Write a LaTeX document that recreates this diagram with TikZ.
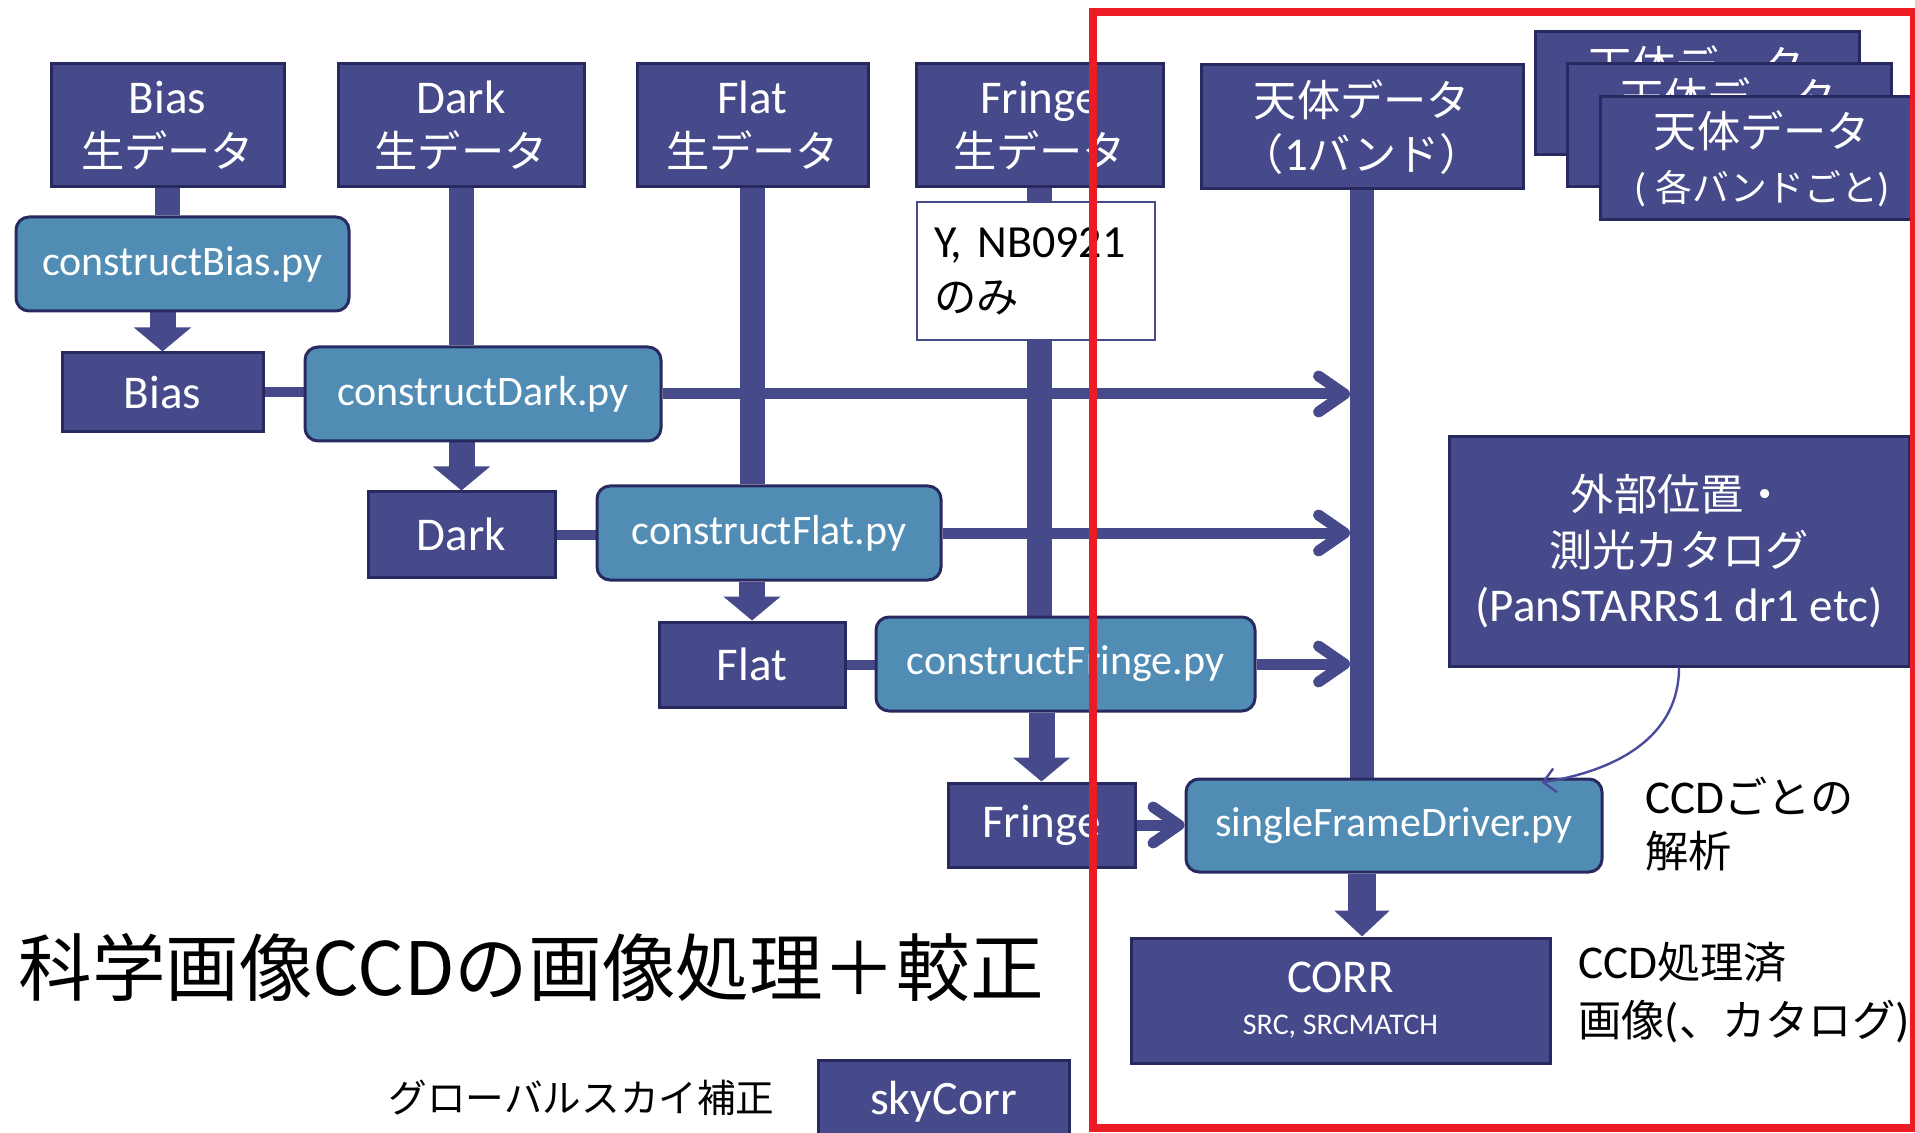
\documentclass[tikz,border=0pt]{standalone}
\usepackage{fontspec}
\setmainfont{Carlito}
\newfontfamily\jp[Scale=0.92]{Noto Sans CJK JP}
\usetikzlibrary{arrows.meta,backgrounds}
\definecolor{navy}{HTML}{46498A}
\definecolor{navyD}{HTML}{282A5F}
\definecolor{steel}{HTML}{508CB4}
\definecolor{redline}{HTML}{EC1C24}
\definecolor{curvec}{HTML}{4B4B9B}
\begin{document}
\begin{tikzpicture}[x=0.5pt,y=-0.5pt,
  darkbox/.style={draw=navyD, fill=navy, line width=1.5pt, text=white, inner sep=0pt, align=center, font=\fontsize{23.5}{27}\selectfont},
  pybox/.style={draw=navyD, fill=steel, line width=1.5pt, rounded corners=6.5pt, text=white, inner sep=0pt, align=center, font=\fontsize{21}{25}\selectfont},
  notebox/.style={draw=navy, fill=white, line width=1pt, text=black, inner xsep=8.5pt, inner ysep=0pt, align=left, text width=102pt, font=\fontsize{23}{27.5}\selectfont},
  plain/.style={inner sep=0pt, text=black},
  bar/.style={draw=navy, line width=12.5pt},
  link/.style={draw=navy, line width=5.5pt},
  chev/.style={draw=navy, line width=5.5pt, -{Straight Barb[length=13pt,width=18pt,round]}},
  blockarr/.style={draw=navy, line width=13pt, -{Triangle[length=12pt,width=28pt]}},
  thinarr/.style={draw=curvec, line width=1.2pt, -{Straight Barb[length=6pt,width=12pt]}}
]
\useasboundingbox (0,0) rectangle (1915,1133);
\clip (0,0) rectangle (1915,1133);

% raw data boxes
\node[darkbox, minimum width=116.5pt, minimum height=61.5pt] (rawBias) at (167.5,125.5) {Bias\\{\jp 生データ}};
\node[darkbox, minimum width=123pt, minimum height=61.5pt] (rawDark) at (461,125.5) {Dark\\{\jp 生データ}};
\node[darkbox, minimum width=115.5pt, minimum height=61.5pt] (rawFlat) at (752.5,125.5) {Flat\\{\jp 生データ}};
\node[darkbox, minimum width=123.5pt, minimum height=61.5pt] (rawFringe) at (1039.5,125.5) {Fringe\\{\jp 生データ}};
\node[darkbox, minimum width=161pt, minimum height=62pt] (obj1) at (1362,127) {{\jp 天体データ}\\{\jp （}1{\jp バンド）}};
\node[darkbox, minimum width=162pt, minimum height=61.5pt] (objA) at (1697,93.5) {{\jp 天体データ}\\{\fontsize{20}{27}\selectfont ( {\jp 各バンドごと})}};
\node[darkbox, minimum width=162pt, minimum height=61.5pt] (objB) at (1729,125.5) {{\jp 天体データ}\\{\fontsize{20}{27}\selectfont ( {\jp 各バンドごと})}};
\node[darkbox, minimum width=162pt, minimum height=61.5pt] (objC) at (1762,158.5) {{\jp 天体データ}\\{\fontsize{20}{27}\selectfont ( {\jp 各バンドごと})}};

% processing boxes
\node[pybox, minimum width=166.5pt, minimum height=47pt] (cBias) at (182.5,264) {constructBias.py};
\node[darkbox, minimum width=100.5pt, minimum height=39.5pt] (bias) at (162.5,392.5) {Bias};
\node[pybox, minimum width=178pt, minimum height=47pt] (cDark) at (483,394) {constructDark.py};
\node[darkbox, minimum width=93.5pt, minimum height=42.5pt] (dark) at (461.5,534.5) {Dark};
\node[pybox, minimum width=172pt, minimum height=47pt] (cFlat) at (769,533) {constructFlat.py};
\node[darkbox, minimum width=93pt, minimum height=42.5pt] (flat) at (752,664.5) {Flat};
\node[pybox, minimum width=189.5pt, minimum height=47pt] (cFringe) at (1065.5,664) {constructFringe.py};
\node[darkbox, minimum width=93.5pt, minimum height=42pt] (fringe) at (1041.5,825) {Fringe};
\node[pybox, minimum width=208pt, minimum height=46.5pt] (sfd) at (1394,825.5) {singleFrameDriver.py};
\node[darkbox, minimum width=209.5pt, minimum height=62.5pt, font=\fontsize{15}{21}\selectfont] (corr) at (1340.5,1000.5) {{\fontsize{23.5}{21}\selectfont CORR}\\SRC, SRCMATCH};
\node[darkbox, minimum width=230pt, minimum height=114.5pt, font=\fontsize{23.5}{27.75}\selectfont] (cat) at (1679,551.5) {{\jp 外部位置・}\\{\jp 測光カタログ}\\(PanSTARRS1 dr1 etc)};
\node[darkbox, minimum width=125.5pt, minimum height=42pt, font=\fontsize{24}{28}\selectfont] (sky) at (943.5,1102) {skyCorr};
\node[notebox, minimum height=69pt] (note) at (1036,271) {Y, NB0921\\{\jp のみ}};

% free texts
\node[plain, anchor=west, font={\fontsize{40}{46}\jp}] (title) at (18,967) {科学画像CCDの画像処理＋較正};
\node[plain, anchor=east, font={\fontsize{21}{25}\jp}] (subtitle) at (775,1098) {グローバルスカイ補正};
\node[plain, anchor=west, align=left, font=\fontsize{23.5}{27}\selectfont] (ccdA) at (1645,824) {CCD{\jp ごとの}\\{\jp 解析}};
\node[plain, anchor=west, align=left, font=\fontsize{23.5}{29}\selectfont] (ccdB) at (1578,993) {CCD{\jp 処理済}\\{\jp 画像}({\jp 、カタログ})};

\coordinate (barL) at (1350,0);

\begin{pgfonlayer}{background}
  % vertical feeds
  \draw[bar] (rawBias.south) -- (rawBias.south |- cBias.north);
  \draw[bar] (rawDark.south) -- (rawDark.south |- cDark.north);
  \draw[bar] (rawFlat.south) -- (rawFlat.south |- cFlat.north);
  \draw[bar] (rawFringe.south) -- (rawFringe.south |- cFringe.north);
  \draw[bar, line width=12pt] (obj1.south) -- (obj1.south |- sfd.north);
  % product arrows
  \draw[blockarr] (bias.north |- cBias.south) -- (bias.north);
  \draw[blockarr] (dark.north |- cDark.south) -- (dark.north);
  \draw[blockarr] (flat.north |- cFlat.south) -- (flat.north);
  \draw[blockarr] (fringe.north |- cFringe.south) -- (fringe.north);
  \draw[blockarr, line width=14pt, -{Triangle[length=13pt,width=27pt]}] (obj1.south |- sfd.south) -- (obj1.south |- corr.north);
  % side links
  \draw[link, line width=5pt] (bias.east) -- (bias.east -| cDark.west);
  \draw[link, line width=5pt] (dark.east) -- (dark.east -| cFlat.west);
  \draw[link, line width=5pt] (flat.east) -- (flat.east -| cFringe.west);
  % to the object stream
  \draw[chev] (cDark.east) -- (cDark.east -| barL);
  \draw[chev] (cFlat.east) -- (cFlat.east -| barL);
  \draw[chev] (cFringe.east) -- (cFringe.east -| barL);
  \draw[chev] (fringe.east) -- (fringe.east -| sfd.west);
\end{pgfonlayer}

\draw[thinarr] (cat.south) .. controls (1679,735) and (1620,770) .. ([xshift=-31pt,yshift=-2.5pt]sfd.north east);

% red frame
\draw[redline, line width=4pt] (1093,12) rectangle (1914,1128);
\end{tikzpicture}
\end{document}
